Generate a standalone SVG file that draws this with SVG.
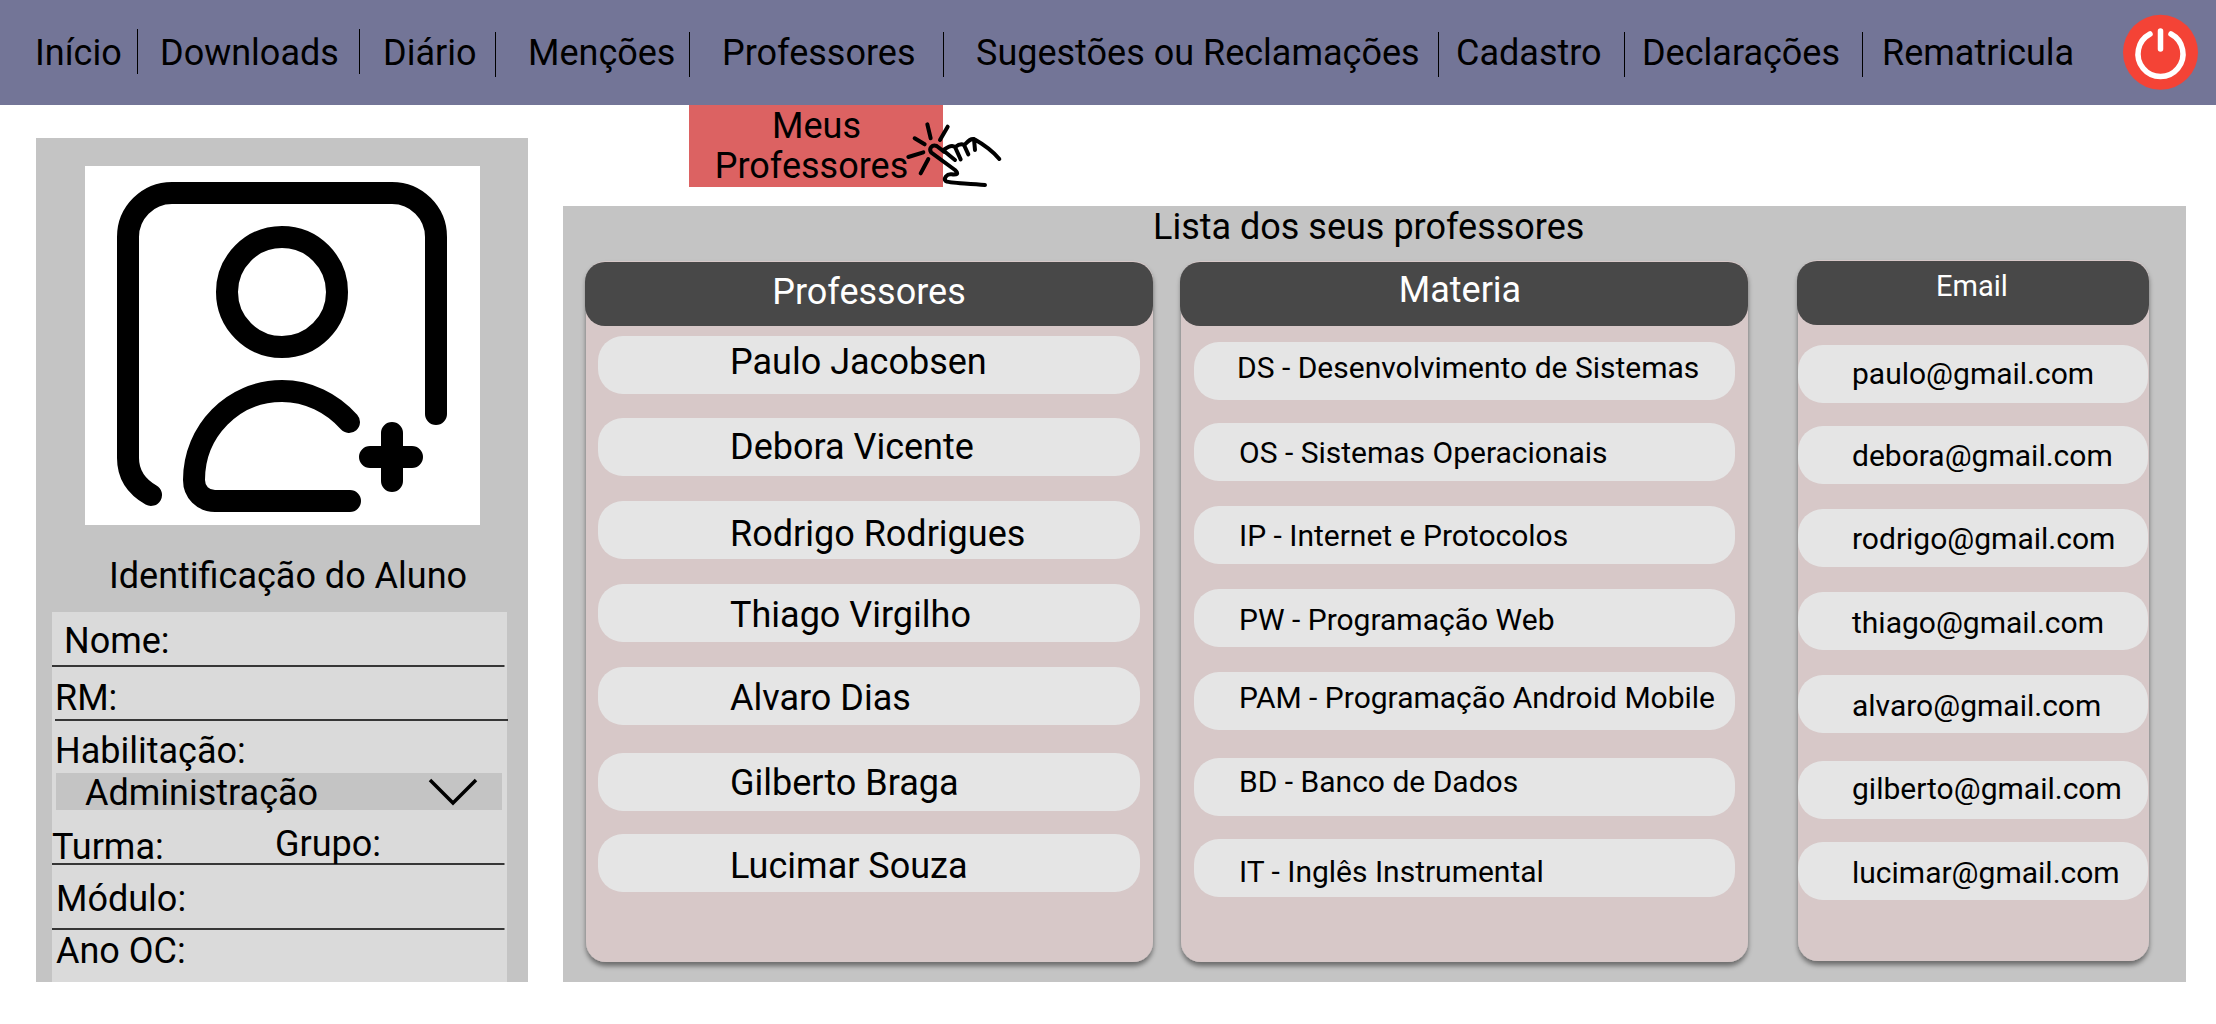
<svg xmlns="http://www.w3.org/2000/svg" width="2216" height="1024" viewBox="0 0 2216 1024">
<defs>
<filter id="sh" x="-5%" y="-5%" width="110%" height="110%"><feDropShadow dx="0" dy="4" stdDeviation="2.5" flood-color="#000" flood-opacity="0.45"/></filter>
</defs>
<style>
text{font-family:Roboto,"Liberation Sans",sans-serif;fill:#000}
.t36{font-size:36px}
.m{font-size:30px}
.e{font-size:30px}
.w{fill:#fff}
.mid{text-anchor:middle}
.sep{stroke:#000;stroke-width:1;fill:none}
.rule{stroke:#000;stroke-width:1.5;fill:none}
.col{fill:#d7c8c8;filter:url(#sh)}
.head{fill:#484848}
.pill{fill:#e5e5e5}
.ic{fill:none;stroke:#000;stroke-width:22;stroke-linecap:round;stroke-linejoin:round}
.hand{fill:none;stroke:#000;stroke-width:12;stroke-linecap:round;stroke-linejoin:round}
</style>
<rect width="2216" height="1024" fill="#fff"/>
<g id="menu">
<rect x="0" y="0" width="2216" height="105" fill="#737597"/>
<g id="menu-items">
<text class="t36" x="35" y="65">Início</text>
<text class="t36" x="160" y="65">Downloads</text>
<text class="t36" x="383" y="65">Diário</text>
<text class="t36" x="528" y="65">Menções</text>
<text class="t36" x="722" y="65">Professores</text>
<text class="t36" x="976" y="65">Sugestões ou Reclamações</text>
<text class="t36" x="1456" y="65">Cadastro</text>
<text class="t36" x="1642" y="65" textLength="198">Declarações</text>
<text class="t36" x="1882" y="65">Rematricula</text>
</g>
<g id="menu-separators">
<path class="sep" d="M137.500 29V74M359.500 29V74M495.500 32V77M689.500 32V77M943.500 32V77M1438.500 32V77M1624.500 32V77M1862.500 32V77"/>
</g>
</g>
<g id="power">
<circle cx="2160.500" cy="52.300" r="37.500" fill="#f44336"/>
<path d="M2150 34A22.500 22.500 0 1 0 2171 34" fill="none" stroke="#fff" stroke-width="5.500" stroke-linecap="round"/>
<path d="M2160.500 31V49" fill="none" stroke="#fff" stroke-width="5.500" stroke-linecap="round"/>
</g>
<g id="submenu">
<rect x="689" y="105" width="254" height="82" fill="#dc6262"/>
<text class="t36 mid" x="816.500" y="138">Meus</text>
<text class="t36 mid" x="811.500" y="178">Professores</text>
</g>
<g id="hand" transform="translate(900 115) scale(.3333)">
<path class="hand" d="M82 28L92 70M143 35L120 75M44 70L74 88M25 126L70 112M62 175L85 132"/>
<path class="hand" d="M132 110L110 93C96 88 86 100 93 112L165 165C178 177 170 180 155 178C140 176 130 190 137 198C145 205 200 204 255 210"/>
<path class="hand" d="M133 103C148 92 158 90 165 96L182 133M166 96C178 86 186 86 192 90L205 118M195 88C205 78 212 70 222 72L225 105M222 72C245 85 280 110 298 132M132 108L165 135"/>
</g>
<g id="student-panel">
<rect x="36" y="138" width="492" height="844" fill="#c4c4c4"/>
<rect x="85" y="166" width="395" height="359" fill="#fff"/>
<g id="avatar-icon">
<path class="ic" d="M436 414V237A44 44 0 0 0 392 193H172A44 44 0 0 0 128 237V458C128 475 137 487 151 495"/>
<circle class="ic" cx="282" cy="292" r="55"/>
<path class="ic" d="M349 422C332 403 308 391 282 391C233 391 194 431 194 480C194 492 203 501 215 501H350"/>
<path class="ic" d="M370 457H412M392 433V481"/>
</g>
<text class="t36" x="109" y="588">Identificação do Aluno</text>
<rect x="52" y="612" width="455" height="370" fill="#dadada"/>
<path class="rule" d="M52 666H504.500M55 720H508M52 864H504.500M52 929H504.500"/>
<rect x="56" y="773" width="446" height="37" fill="#c4c4c4"/>
<text class="t36" x="64" y="653">Nome:</text>
<text class="t36" x="55" y="710">RM:</text>
<text class="t36" x="55" y="763">Habilitação:</text>
<text class="t36" x="85" y="805">Administração</text>
<path d="M430 780L453 803L476 780" fill="none" stroke="#000" stroke-width="3.500"/>
<text class="t36" x="52" y="859">Turma:</text>
<text class="t36" x="275" y="856">Grupo:</text>
<text class="t36" x="56" y="911">Módulo:</text>
<text class="t36" x="56" y="963">Ano OC:</text>
</g>
<g id="list-panel">
<rect x="563" y="206" width="1623" height="776" fill="#c4c4c4"/>
<text class="t36" x="1153" y="239">Lista dos seus professores</text>
</g>
<g id="col-professores">
<rect class="col" x="586" y="261" width="567" height="701" rx="20"/>
<rect class="head" x="585" y="262" width="568" height="64" rx="20"/>
<text class="t36 w mid" x="869" y="304">Professores</text>
<rect class="pill" x="598" y="336" width="542" height="58" rx="25"/>
<rect class="pill" x="598" y="418" width="542" height="58" rx="25"/>
<rect class="pill" x="598" y="501" width="542" height="58" rx="25"/>
<rect class="pill" x="598" y="584" width="542" height="58" rx="25"/>
<rect class="pill" x="598" y="667" width="542" height="58" rx="25"/>
<rect class="pill" x="598" y="753" width="542" height="58" rx="25"/>
<rect class="pill" x="598" y="834" width="542" height="58" rx="25"/>
<text class="t36" x="730" y="374">Paulo Jacobsen</text>
<text class="t36" x="730" y="459">Debora Vicente</text>
<text class="t36" x="730" y="546">Rodrigo Rodrigues</text>
<text class="t36" x="730" y="627">Thiago Virgilho</text>
<text class="t36" x="730" y="710">Alvaro Dias</text>
<text class="t36" x="730" y="795">Gilberto Braga</text>
<text class="t36" x="730" y="878">Lucimar Souza</text>
</g>
<g id="col-materia">
<rect class="col" x="1181" y="261" width="567" height="701" rx="20"/>
<rect class="head" x="1180" y="262" width="568" height="64" rx="20"/>
<text class="t36 w mid" x="1460" y="302">Materia</text>
<rect class="pill" x="1194" y="342" width="541" height="58" rx="25"/>
<rect class="pill" x="1194" y="423" width="541" height="58" rx="25"/>
<rect class="pill" x="1194" y="506" width="541" height="58" rx="25"/>
<rect class="pill" x="1194" y="589" width="541" height="58" rx="25"/>
<rect class="pill" x="1194" y="672" width="541" height="58" rx="25"/>
<rect class="pill" x="1194" y="758" width="541" height="58" rx="25"/>
<rect class="pill" x="1194" y="839" width="541" height="58" rx="25"/>
<text class="m" x="1237" y="378">DS - Desenvolvimento de Sistemas</text>
<text class="m" x="1239" y="463">OS - Sistemas Operacionais</text>
<text class="m" x="1239" y="546">IP - Internet e Protocolos</text>
<text class="m" x="1239" y="630">PW - Programação Web</text>
<text class="m" x="1239" y="708">PAM - Programação Android Mobile</text>
<text class="m" x="1239" y="792">BD - Banco de Dados</text>
<text class="m" x="1239" y="882">IT - Inglês Instrumental</text>
</g>
<g id="col-email">
<rect class="col" x="1798" y="260" width="351" height="701" rx="20"/>
<rect class="head" x="1797" y="261" width="352" height="64" rx="20"/>
<text class="w mid" style="font-size:29px" x="1972" y="296">Email</text>
<rect class="pill" x="1798" y="345" width="350" height="58" rx="25"/>
<rect class="pill" x="1798" y="426" width="350" height="58" rx="25"/>
<rect class="pill" x="1798" y="509" width="350" height="58" rx="25"/>
<rect class="pill" x="1798" y="592" width="350" height="58" rx="25"/>
<rect class="pill" x="1798" y="675" width="350" height="58" rx="25"/>
<rect class="pill" x="1798" y="761" width="350" height="58" rx="25"/>
<rect class="pill" x="1798" y="842" width="350" height="58" rx="25"/>
<text class="e" x="1852" y="384">paulo@gmail.com</text>
<text class="e" x="1852" y="466">debora@gmail.com</text>
<text class="e" x="1852" y="549">rodrigo@gmail.com</text>
<text class="e" x="1852" y="633">thiago@gmail.com</text>
<text class="e" x="1852" y="716">alvaro@gmail.com</text>
<text class="e" x="1852" y="799">gilberto@gmail.com</text>
<text class="e" x="1852" y="883">lucimar@gmail.com</text>
</g>
</svg>
